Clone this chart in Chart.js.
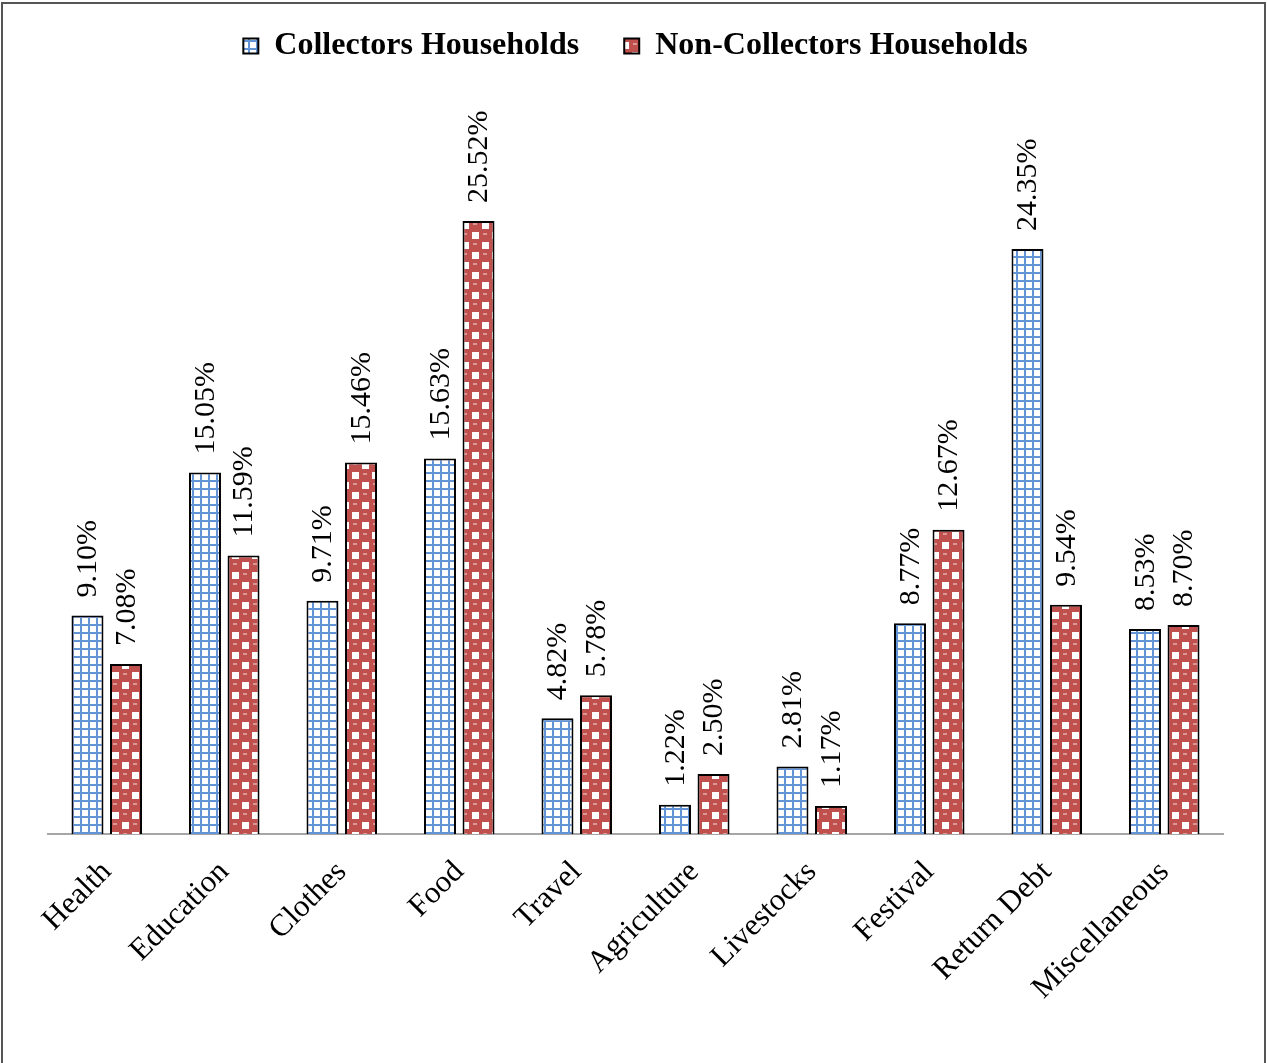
<!DOCTYPE html>
<html>
<head>
<meta charset="utf-8">
<script src="https://cdn.jsdelivr.net/npm/chart.js@4.4.1/dist/chart.umd.min.js"></script>
<style>
  html, body { margin: 0; padding: 0; background: #fff; overflow: hidden; }
  #frame { position: absolute; left: 1px; top: 2px; width: 1261px; height: 1100px; border: 2px solid #555; pointer-events: none; }
  canvas { position: absolute; left: 0; top: 0; }
</style>
</head>
<body>
<canvas id="chart" width="1267" height="1063"></canvas>
<div id="frame"></div>
<script>
// categories and series (percent)
const categories = ['Health', 'Education', 'Clothes', 'Food', 'Travel', 'Agriculture', 'Livestocks', 'Festival', 'Return Debt', 'Miscellaneous'];
const collectors = [9.10, 15.05, 9.71, 15.63, 4.82, 1.22, 2.81, 8.77, 24.35, 8.53];
const nonCollectors = [7.08, 11.59, 15.46, 25.52, 5.78, 2.50, 1.17, 12.67, 9.54, 8.70];
const seriesNames = ['Collectors Households', 'Non-Collectors Households'];

const ctx = document.getElementById('chart').getContext('2d');

// blue grid pattern
function gridPattern() {
    const c = document.createElement('canvas');
    c.width = 8; c.height = 8;
    const g = c.getContext('2d');
    g.fillStyle = '#ffffff';
    g.fillRect(0, 0, 8, 8);
    g.fillStyle = '#6394d6';
    g.fillRect(0, 0, 2, 8);
    g.fillRect(0, 0, 8, 2);
    return ctx.createPattern(c, 'repeat');
}

// red checker pattern with round blobs
function checkerPattern() {
    const c = document.createElement('canvas');
    c.width = 20; c.height = 20;
    const g = c.getContext('2d');
    g.fillStyle = '#c0504d';
    g.fillRect(0, 0, 20, 20);
    g.fillStyle = '#ffffff';
    g.fillRect(2, 2, 7, 7);
    g.fillRect(12, 12, 7, 7);
    g.fillStyle = '#dc9694';
    g.fillRect(13, 3, 4, 2);
    g.fillRect(3, 13, 4, 2);
    return ctx.createPattern(c, 'repeat');
}

// rotated value labels above the bars
const valueLabels = {
    id: 'valueLabels',
    afterDatasetsDraw(chart) {
        const c = chart.ctx;
        c.save();
        c.font = '30px "Liberation Serif", "Times New Roman", serif';
        c.fillStyle = '#000';
        c.textAlign = 'left';
        c.textBaseline = 'middle';
        chart.data.datasets.forEach((ds, i) => {
            chart.getDatasetMeta(i).data.forEach((bar, j) => {
                c.save();
                c.translate(bar.x + 1, bar.y - 18);
                c.rotate(-Math.PI / 2);
                c.fillText(ds.data[j].toFixed(2) + '%', 0, 0);
                c.restore();
            });
        });
        c.restore();
    }
};

new Chart(ctx, {
    type: 'bar',
    data: {
        labels: categories,
        datasets: [{
            label: seriesNames[0],
            data: collectors,
            backgroundColor: gridPattern(),
            borderColor: '#000',
            borderWidth: 2
        }, {
            label: seriesNames[1],
            data: nonCollectors,
            backgroundColor: checkerPattern(),
            borderColor: '#000',
            borderWidth: 2
        }]
    },
    options: {
        responsive: false,
        animation: false,
        categoryPercentage: 0.656,
        barPercentage: 0.83,
        layout: {
            padding: { top: -15, left: 48, right: 44, bottom: 0 }
        },
        plugins: {
            legend: {
                display: true,
                position: 'top',
                labels: {
                    boxWidth: 15,
                    boxHeight: 15,
                    padding: 45,
                    color: '#000',
                    font: { family: '"Liberation Serif", "Times New Roman", serif', size: 32, weight: 'bold' }
                }
            },
            tooltip: { enabled: false }
        },
        scales: {
            x: {
                grid: { display: false },
                border: { display: true, color: '#a6a6a6', width: 2 },
                ticks: {
                    color: '#000',
                    maxRotation: 45,
                    minRotation: 45,
                    padding: 12,
                    font: { family: '"Liberation Serif", "Times New Roman", serif', size: 31 }
                },
                afterFit(scale) {
                    scale.height = 1063 - 834;
                }
            },
            y: {
                display: false,
                min: 0,
                max: 31.72
            }
        }
    },
    plugins: [valueLabels]
});
</script>
</body>
</html>
